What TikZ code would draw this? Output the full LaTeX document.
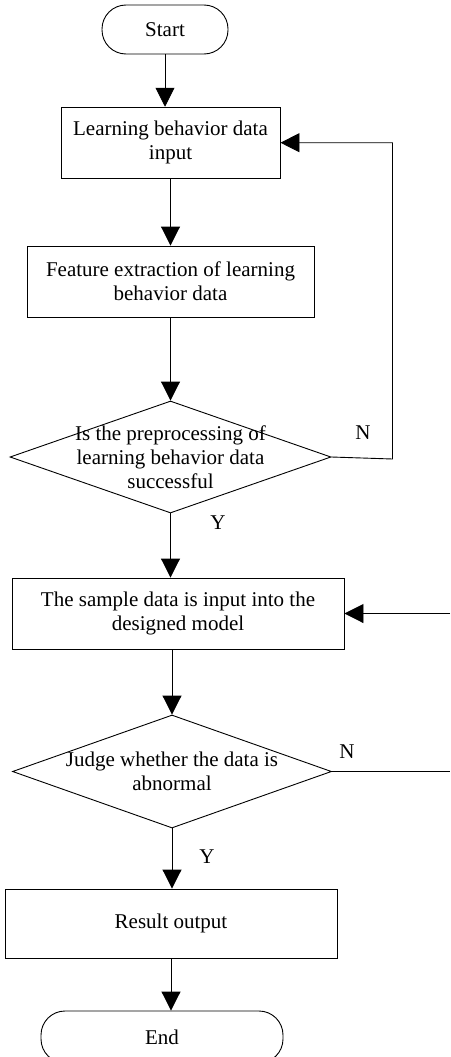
\documentclass[tikz,border=0pt]{standalone}
\usepackage{fontspec}
\setmainfont{Liberation Serif}
\usetikzlibrary{shapes.geometric,arrows.meta}
\begin{document}
\begin{tikzpicture}[x=1pt,y=-1pt, line width=0.9pt,
  every node/.style={font=\fontsize{21}{24}\selectfont},
  proc/.style={draw, rectangle, inner sep=0pt, align=center},
  term/.style={draw, rectangle, rounded corners=24pt, inner sep=0pt},
  decision/.style={draw, diamond, inner sep=0pt},
  txt/.style={align=center, inner sep=0pt},
  flow/.style={-{Triangle[length=19pt,width=19pt]}}]
\useasboundingbox (0,0) rectangle (450,1057);
\clip (0,0) rectangle (450,1057);

% process steps
\node[term, minimum width=126pt, minimum height=49pt] (start) at (165,29.5) {Start};
\node[proc, minimum width=219pt, minimum height=71pt] (b1) at (170.5,142.7) {Learning behavior data\\input};
\node[proc, minimum width=287pt, minimum height=71pt] (b2) at (170.5,281.5) {Feature extraction of learning\\behavior data};
\node[decision, minimum width=321pt, minimum height=112pt] (d1) at (170.5,457) {};
\node[txt] (d1t) at (d1.center) {Is the preprocessing of\\learning behavior data\\successful};
\node[proc, minimum width=332pt, minimum height=71pt] (b3) at (178,613.5) {The sample data is input into the\\designed model};
\node[decision, minimum width=319pt, minimum height=113pt] (d2) at (172,771.5) {};
\node[txt] (d2t) at (d2.center) {Judge whether the data is\\abnormal};
\node[proc, minimum width=332pt, minimum height=69pt] (b4) at (171,923.5) {Result output};
\node[term, minimum width=242pt, minimum height=52pt] (end) at (162,1037) {End};

% branch labels
\node (n1) at (363,433) {N};
\node (y1) at (218,523) {Y};
\node (n2) at (347,752) {N};
\node (y2) at (207,857) {Y};

% free ends and bends
\coordinate (fb) at (392.5,459);
\coordinate (in3) at (450,613.5);
\coordinate (out2) at (450,771.5);

% connectors
\draw[flow] (start.south) -- (start.south |- b1.north);
\draw[flow] (b1.south) -- (b2.north);
\draw[flow] (b2.south) -- (d1.north);
\draw[flow] (d1.east) -- (fb) |- (b1.east);
\draw[flow] (d1.south) -- (d1.south |- b3.north);
\draw[flow] (in3) -- (b3.east);
\draw[flow] (d2.north |- b3.south) -- (d2.north);
\draw (d2.east) -- (out2);
\draw[flow] (d2.south) -- (d2.south |- b4.north);
\draw[flow] (b4.south) -- (b4.south |- end.north);
\end{tikzpicture}
\end{document}
